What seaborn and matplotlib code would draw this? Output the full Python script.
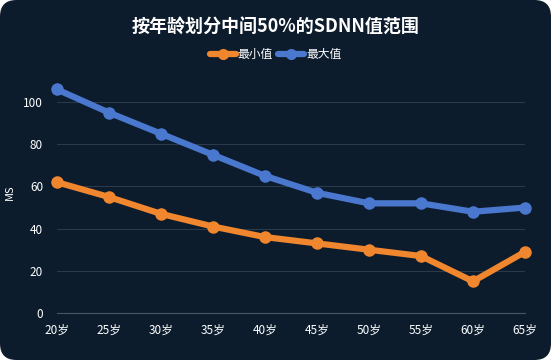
import matplotlib
matplotlib.use('Agg')
import matplotlib.pyplot as plt
from matplotlib.patches import FancyBboxPatch
from matplotlib.lines import Line2D
import pandas as pd
import seaborn as sns

# data
ages = ['20岁', '25岁', '30岁', '35岁', '40岁', '45岁', '50岁', '55岁', '60岁', '65岁']
min_vals = [62, 55, 47, 41, 36, 33, 30, 27, 15, 29]
max_vals = [106, 95, 85, 75, 65, 57, 52, 52, 48, 50]

df = pd.DataFrame({'age': ages * 2,
                   'value': min_vals + max_vals,
                   'series': ['最小值'] * len(ages) + ['最大值'] * len(ages)})
df['x'] = list(range(len(ages))) * 2

sns.set_style('dark')
plt.rcParams['font.family'] = ['Noto Sans CJK SC', 'DejaVu Sans']

bg = '#0c1c2d'
fig = plt.figure(figsize=(5.51, 3.6), dpi=100)
fig.patch.set_facecolor('white')
fig.patches.append(FancyBboxPatch((0, 0), 1, 1, boxstyle='round,pad=0,rounding_size=0.03',
                                  transform=fig.transFigure, facecolor=bg, edgecolor='none',
                                  mutation_aspect=551 / 360, zorder=-1))
ax = fig.add_axes([57 / 551, 47 / 360, 468 / 551, 232 / 360])
ax.set_facecolor(bg)

palette = {'最小值': '#f0862e', '最大值': '#4a78cf'}
sns.lineplot(data=df, x='x', y='value', hue='series', palette=palette, ax=ax,
             linewidth=4.5, marker='o', markersize=9, markeredgewidth=0, legend=False,
             clip_on=False)

ax.set_xlim(0, len(ages) - 1)
ax.set_ylim(0, 110)
ax.set_yticks([0, 20, 40, 60, 80, 100])
ax.set_xticks(range(len(ages)))
ax.set_xticklabels(ages)
ax.tick_params(axis='x', colors='#4a5564', labelcolor='white', labelsize=8.5, length=4, pad=4)
ax.tick_params(axis='y', length=0, labelcolor='white', labelsize=8.5, pad=10)
ax.grid(axis='y', color='#2a3a4a', linewidth=0.8)
ax.grid(axis='x', visible=False)
for s in ['top', 'right', 'left']:
    ax.spines[s].set_visible(False)
ax.spines['bottom'].set_color('#4a5564')
ax.set_xlabel('')
ax.set_ylabel('MS', color='white', fontsize=8)
ax.yaxis.set_label_coords(-0.09, 0.52)

fig.text(0.5, 0.925, '按年龄划分中间50%的SDNN值范围', ha='center', va='center',
         color='white', fontsize=13, fontweight='bold')

# legend
handles = [Line2D([], [], color=palette[k], linewidth=4.5, marker='o', markersize=7) for k in ['最小值', '最大值']]
fig.legend(handles, ['最小值', '最大值'], loc='center', bbox_to_anchor=(0.5, 0.848), ncol=2,
           frameon=False, labelcolor='white', fontsize=8.5, handlelength=2.2,
           handletextpad=0.2, columnspacing=0.4)

fig.savefig('out.png', dpi=100, facecolor=fig.get_facecolor())
